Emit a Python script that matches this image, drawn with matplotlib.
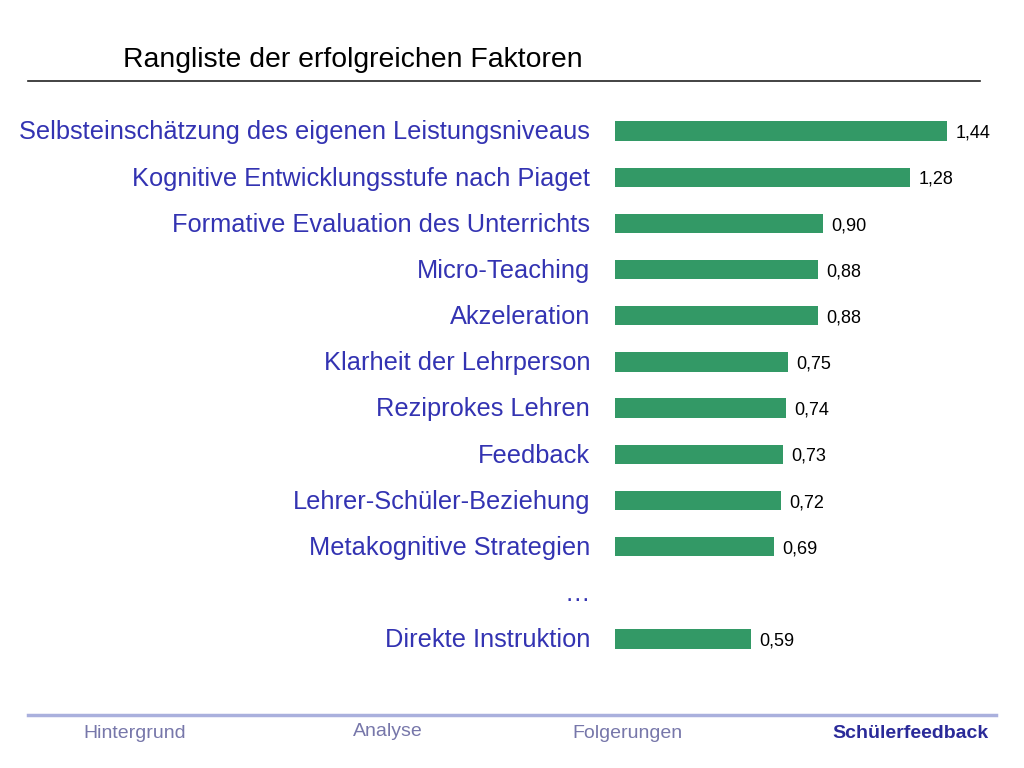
import numpy as np
import matplotlib
matplotlib.use("Agg")
import matplotlib.pyplot as plt
from matplotlib.lines import Line2D

plt.rcParams["font.family"] = "Liberation Sans"

categories = ["Selbsteinschätzung des eigenen Leistungsniveaus",
              "Kognitive Entwicklungsstufe nach Piaget",
              "Formative Evaluation des Unterrichts",
              "Micro-Teaching", "Akzeleration", "Klarheit der Lehrperson",
              "Reziprokes Lehren", "Feedback", "Lehrer-Schüler-Beziehung",
              "Metakognitive Strategien", "…", "Direkte Instruktion"]
values = [1.44, 1.28, 0.90, 0.88, 0.88, 0.75, 0.74, 0.73, 0.72, 0.69, np.nan, 0.59]
value_labels = ["1,44", "1,28", "0,90", "0,88", "0,88", "0,75", "0,74", "0,73",
                "0,72", "0,69", "", "0,59"]
footer = ["Hintergrund", "Analyse", "Folgerungen", "Schülerfeedback"]

W, H = 1024, 768
fig = plt.figure(figsize=(W / 100, H / 100), dpi=100)
ax = fig.add_axes([615 / W, 1 - 662 / H, (1000 - 615) / W, (662 - 108) / H])
ax.set_xlim(0, (1000 - 615) / 230.6)
ax.set_ylim(len(categories) - 0.5, -0.5)
ax.axis("off")

pos = np.arange(len(categories))
vals = np.array(values)
mask = ~np.isnan(vals)
ax.barh(pos[mask], vals[mask], height=0.42, color="#339966")
for p, v, lab in zip(pos, vals, value_labels):
    if not np.isnan(v):
        ax.annotate(lab, (v, p), xytext=(6, -1.5), textcoords="offset points",
                    ha="left", va="center", fontsize=13, color="black")
for p, c in zip(pos, categories):
    ax.annotate(c, (0, p), xytext=(-18, -1), textcoords="offset points",
                ha="right", va="center", fontsize=18.3, color="#3333b2")

fig.text(123 / W, 1 - 60 / H, "Rangliste der erfolgreichen Faktoren",
         fontsize=20.4, ha="left", va="center", color="black")
fig.add_artist(Line2D([28 / W, 980 / W], [1 - 81 / H] * 2, color="#222222", lw=1.2))
fig.add_artist(Line2D([28 / W, 996 / W], [1 - 715 / H] * 2, color="#aab0dd", lw=2.5))

fx = [135, 388, 627, 910]
fy = [734, 731, 734, 734]
for t, x, y in zip(footer, fx, fy):
    bold = t == "Schülerfeedback"
    fig.text(x / W, 1 - y / H, t, fontsize=14, ha="center", va="center",
             color="#2a2a99" if bold else "#7777aa",
             fontweight="bold" if bold else "normal")

fig.savefig("out.png", dpi=100)
